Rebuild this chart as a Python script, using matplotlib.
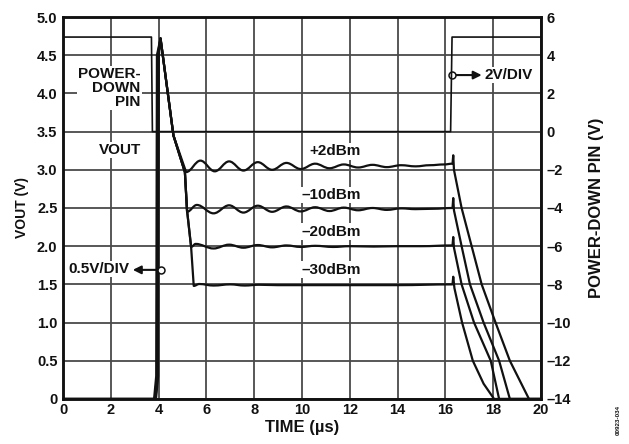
import matplotlib
matplotlib.use("Agg")
import matplotlib.pyplot as plt
from matplotlib.path import Path
from matplotlib.patches import PathPatch

# ---- data (time in µs, VOUT in V, power-down pin in V) ----
pin_t = [0.0, 3.70, 3.74, 16.22, 16.28, 20.0]
pin_v = [4.95, 4.95, 0.0, 0.0, 4.95, 4.95]

# turn-on edge of each trace (µs), then the shared overshoot and fall
turn_on = [3.99, 3.96, 3.93, 4.01]
env_t = [4.08, 4.62, 5.10, 5.19, 5.36, 5.47]
env_v = [4.72, 3.45, 2.97, 2.47, 1.99, 1.48]

# settled ringing (extrema), then the step at power-down and the decay
p2_ring_t = [5.15, 5.75, 6.35, 6.95, 7.55, 8.15, 8.75, 9.35, 9.95, 10.55, 11.15,
             11.75, 12.35, 12.95, 13.55, 14.15, 14.75, 15.35, 15.95, 16.30]
p2_ring_v = [2.97, 3.12, 2.98, 3.11, 2.99, 3.10, 3.00, 3.09, 3.01, 3.08, 3.02,
             3.07, 3.03, 3.065, 3.035, 3.06, 3.045, 3.06, 3.07, 3.08]
p2_fall_t = [16.33, 16.36, 16.68, 17.10, 17.52, 18.10, 18.70, 19.50, 20.0]
p2_fall_v = [3.19, 3.00, 2.50, 2.00, 1.50, 1.00, 0.50, 0.0, 0.0]

m10_ring_t = [5.19, 5.60, 6.30, 6.95, 7.55, 8.15, 8.75, 9.35, 9.95, 10.55, 11.15,
              11.75, 12.35, 12.95, 13.55, 14.15, 14.75, 15.50, 16.30]
m10_ring_v = [2.45, 2.54, 2.43, 2.535, 2.44, 2.53, 2.45, 2.52, 2.455, 2.51, 2.46,
              2.505, 2.47, 2.50, 2.475, 2.495, 2.485, 2.49, 2.50]
m10_fall_t = [16.33, 16.36, 16.68, 17.03, 17.60, 18.25, 18.70, 20.0]
m10_fall_v = [2.63, 2.47, 2.00, 1.50, 1.00, 0.50, 0.0, 0.0]

m20_ring_t = [5.36, 5.55, 6.30, 6.95, 7.55, 8.15, 8.75, 9.35, 9.95, 10.55, 11.30,
              12.0, 13.0, 14.0, 15.0, 16.30]
m20_ring_v = [1.99, 2.03, 1.97, 2.02, 1.98, 2.015, 1.985, 2.01, 1.99, 2.005, 1.99,
              2.0, 1.995, 2.0, 2.0, 2.01]
m20_fall_t = [16.33, 16.36, 16.68, 17.20, 17.90, 18.25, 20.0]
m20_fall_v = [2.12, 1.98, 1.50, 1.00, 0.50, 0.0, 0.0]

m30_ring_t = [5.47, 5.70, 6.30, 7.00, 7.60, 8.20, 9.00, 10.0, 12.0, 14.0, 16.30]
m30_ring_v = [1.48, 1.505, 1.485, 1.50, 1.485, 1.495, 1.49, 1.49, 1.49, 1.49, 1.50]
m30_fall_t = [16.33, 16.38, 16.70, 17.15, 17.60, 18.04, 20.0]
m30_fall_v = [1.60, 1.45, 1.00, 0.50, 0.20, 0.0, 0.0]

series = [
    (p2_ring_t, p2_ring_v, p2_fall_t, p2_fall_v),
    (m10_ring_t, m10_ring_v, m10_fall_t, m10_fall_v),
    (m20_ring_t, m20_ring_v, m20_fall_t, m20_fall_v),
    (m30_ring_t, m30_ring_v, m30_fall_t, m30_fall_v),
]

x_ticks = list(range(0, 21, 2))
vout_ticks = [0, 0.5, 1.0, 1.5, 2.0, 2.5, 3.0, 3.5, 4.0, 4.5, 5.0]
pin_ticks = list(range(-14, 7, 2))

# ---- figure ----
plt.rcParams["font.family"] = ["Liberation Sans", "DejaVu Sans"]
plt.rcParams["font.weight"] = "bold"
INK = "#111111"

fig = plt.figure(figsize=(6.29, 4.44), dpi=100)
ax = fig.add_axes([0.1002, 0.1014, 0.7598, 0.8603])
ax2 = ax.twinx()

ax.set_xlim(0, 20)
ax.set_ylim(0, 5.0)
ax2.set_ylim(-14, 6)

ax.set_xticks(x_ticks)
ax.set_yticks(vout_ticks)
ax.set_yticklabels(["0" if v == 0 else f"{v:.1f}" for v in vout_ticks])
ax2.set_yticks(pin_ticks)
ax2.set_yticklabels([f"{v}".replace("-", "–") for v in pin_ticks])

ax.grid(True, color="#4a4a4a", lw=1.3, zorder=0)
ax.set_axisbelow(True)
for a in (ax, ax2):
    a.tick_params(length=0, labelsize=10.5, colors=INK, pad=4)
    for s in a.spines.values():
        s.set_linewidth(1.8)
        s.set_color(INK)
ax.tick_params(axis="x", pad=3)

# power-down pin trace on the right-hand scale
ax2.plot(pin_t, pin_v, color=INK, lw=1.2, zorder=3)


def trace_path(t_on, ring_t, ring_v, fall_t, fall_v):
    """Straight segments for edges, smooth half-waves between ringing extrema."""
    lvl = ring_v[0]
    verts = [(0.0, 0.0), (t_on - 0.12, 0.0), (t_on - 0.03, 0.30), (t_on, 4.50)]
    verts += [(a, b) for a, b in zip(env_t, env_v) if b > lvl + 0.02]
    codes = [Path.MOVETO] + [Path.LINETO] * (len(verts) - 1)
    verts.append((ring_t[0], ring_v[0]))
    codes.append(Path.LINETO)
    for (x0, y0), (x1, y1) in zip(zip(ring_t[:-1], ring_v[:-1]),
                                  zip(ring_t[1:], ring_v[1:])):
        d = (x1 - x0) * 0.37
        verts += [(x0 + d, y0), (x1 - d, y1), (x1, y1)]
        codes += [Path.CURVE4] * 3
    verts += list(zip(fall_t, fall_v))
    codes += [Path.LINETO] * len(fall_t)
    return Path(verts, codes)


for t_on, (rt, rv, ft, fv) in zip(turn_on, series):
    ax.add_patch(PathPatch(trace_path(t_on, rt, rv, ft, fv), fill=False,
                           edgecolor=INK, lw=1.6, joinstyle="round", zorder=4))

box = dict(facecolor="white", edgecolor="none", pad=1.0)
tk = dict(fontsize=11, color=INK, fontweight="bold", zorder=6)

ax.text(3.25, 4.07, "POWER-\nDOWN\nPIN", ha="right", va="center",
        linespacing=0.98, bbox=box, **tk)
ax.text(3.25, 3.26, "VOUT", ha="right", va="center", bbox=box, **tk)
for lbl, y in [("+2dBm", 3.24), ("–10dBm", 2.67), ("–20dBm", 2.19), ("–30dBm", 1.69)]:
    ax.text(12.45, y, lbl, ha="right", va="center", bbox=box, **tk)

# scale markers with arrows
ax.text(0.22, 1.70, "0.5V/DIV", ha="left", va="center", bbox=box, **tk)
ax.annotate("", xy=(2.92, 1.69), xytext=(4.05, 1.69),
            arrowprops=dict(arrowstyle="-|>", color=INK, lw=1.5,
                            mutation_scale=12, shrinkA=0, shrinkB=0), zorder=6)
ax.plot([4.1], [1.685], marker="o", ms=5, mfc="white", mec=INK, mew=1.1, zorder=7)

ax.annotate("", xy=(17.52, 4.24), xytext=(16.4, 4.24),
            arrowprops=dict(arrowstyle="-|>", color=INK, lw=1.5,
                            mutation_scale=12, shrinkA=0, shrinkB=0), zorder=6)
ax.plot([16.26], [4.24], marker="o", ms=5, mfc="white", mec=INK, mew=1.1, zorder=7)
ax.text(17.62, 4.24, "2V/DIV", ha="left", va="center", bbox=box, **tk)

ax.set_xlabel("TIME (µs)", fontsize=12, fontweight="bold", color=INK, labelpad=2)
ax.set_ylabel("VOUT (V)", fontsize=10, fontweight="bold", color=INK, labelpad=6)
ax2.set_ylabel("POWER-DOWN PIN (V)", fontsize=12, fontweight="bold", color=INK,
               labelpad=13)

fig.text(0.983, 0.055, "00923-034", rotation=90, fontsize=4.5, color=INK,
         ha="center", va="center")

fig.savefig("out.png", dpi=100, facecolor="white")
